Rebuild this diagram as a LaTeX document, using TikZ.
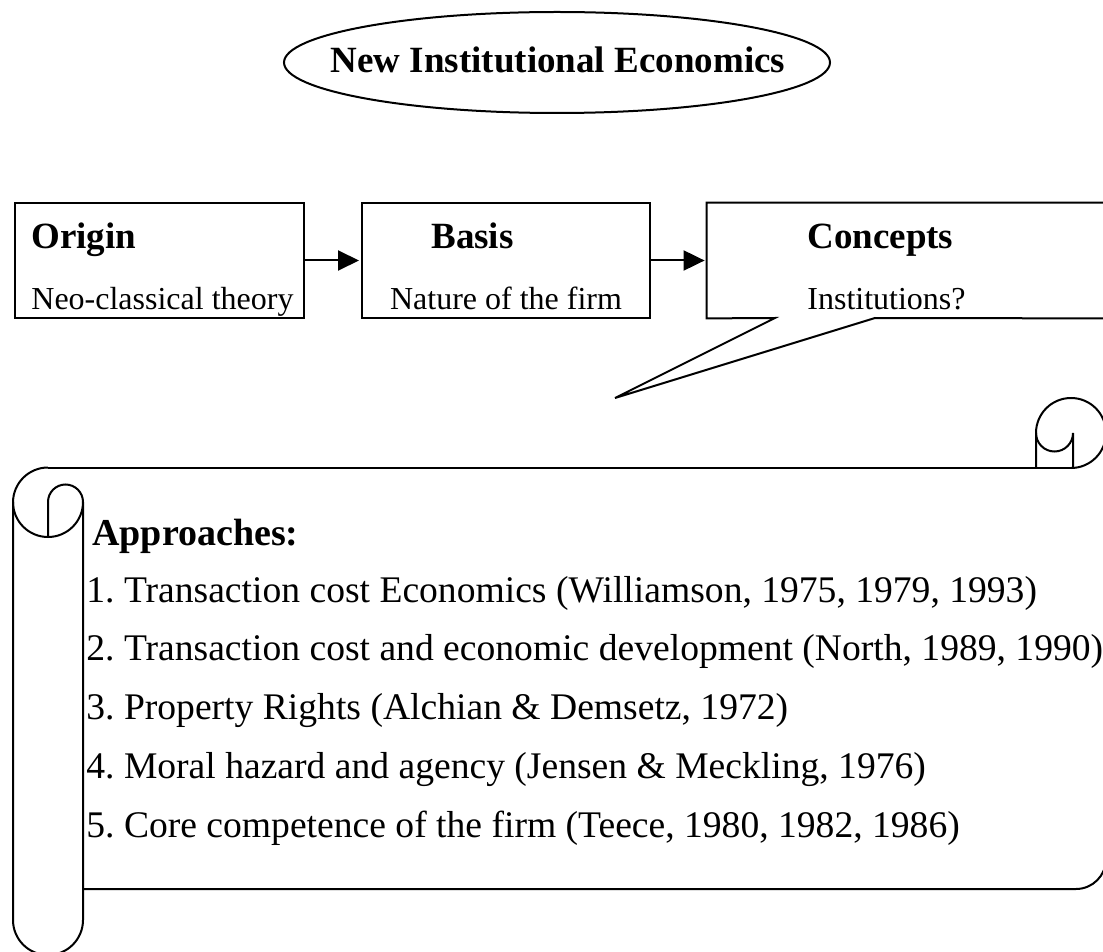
\documentclass[tikz,border=0pt]{standalone}
\usepackage{fontspec}
\setmainfont{Liberation Serif}
\usetikzlibrary{arrows.meta,shapes.geometric}
\tikzset{
  ln/.style={line width=1pt, draw=black},
  boxnode/.style={ln, rectangle, inner sep=0pt, minimum height=57.5pt},
  hd/.style={inner sep=0pt, anchor=base west, font=\fontsize{18.5}{22}\selectfont\bfseries},
  tx/.style={inner sep=0pt, anchor=base west, font=\fontsize{16}{19}\selectfont},
  item/.style={inner sep=0pt, anchor=base west, font=\fontsize{18.8}{22}\selectfont\frenchspacing},
  arr/.style={ln, -{Triangle[length=10.5pt,width=10pt]}, shorten >=1pt},
  titletext/.style={inner sep=0pt, font=\fontsize{18.5}{22}\selectfont\bfseries}
}
\begin{document}
\begin{tikzpicture}[x=0.5pt,y=-0.5pt]
\useasboundingbox (0,0) rectangle (1103,952);
\clip (0,0) rectangle (1103,952);
% title
\node[titletext] (title) at (558,60) {New Institutional Economics};
\draw[ln] (557,62.5) ellipse [x radius=273, y radius=50.5];
% boxes
\node[boxnode, minimum width=144.5pt] (origin) at (159.5,260.5) {};
\node[boxnode, minimum width=144pt] (basis) at (506,260.5) {};
\node[inner sep=0pt, minimum width=201.5pt, minimum height=57.5pt] (concepts) at (908.5,260.5) {};
\coordinate (tip) at (615,398);
\coordinate (tailL) at (775,318);
\coordinate (tailR) at (875,318);
\draw[ln, line join=miter] (concepts.north west) -- (concepts.north east) -- (concepts.south east)
  -- (tailR) -- (tip) -- (tailL) -- (concepts.south west) -- cycle;
\node[hd] (originH) at (31,249) {Origin};
\node[tx] (originS) at (31,309) {Neo-classical theory};
\node[hd] (basisH) at (431,249) {Basis};
\node[tx, anchor=base] (basisS) at (506,309) {Nature of the firm};
\node[hd] (conceptsH) at (807,249) {Concepts};
\node[tx] (conceptsS) at (807,309) {Institutions?};
\draw[arr] (origin.east) -- (basis.west);
\draw[arr] (basis.east) -- (concepts.west);
% scroll
\draw[ln] (48,467.5) arc[start angle=270,end angle=180,radius=35] -- (13,920)
  arc[start angle=180,end angle=0,radius=35] -- (83,502)
  arc[start angle=0,end angle=-180,radius=17.5] -- (48,537);
\draw[ln] (13,502) arc[start angle=180,end angle=0,radius=35];
\draw[ln] (48,467.5) -- (1071,467.5);
\draw[ln] (1036,467.5) -- (1036,433) arc[start angle=180,end angle=450,radius=35];
\draw[ln] (1036,433) arc[start angle=180,end angle=0,radius=18.5] -- (1073,467.5);
\draw[ln] (1106,433) -- (1106,859) arc[start angle=0,end angle=90,radius=30] -- (83,889);
% scroll text
\node[hd, font=\fontsize{19}{22}\selectfont\bfseries] (appr) at (92,545) {Approaches:};
\node[item] (i1) at (86,602) {1. Transaction cost Economics (Williamson, 1975, 1979, 1993)};
\node[item] (i2) at (86,660.5) {2. Transaction cost and economic development (North, 1989, 1990)};
\node[item] (i3) at (86,719) {3. Property Rights (Alchian \& Demsetz, 1972)};
\node[item] (i4) at (86,778) {4. Moral hazard and agency (Jensen \& Meckling, 1976)};
\node[item] (i5) at (86,837) {5. Core competence of the firm (Teece, 1980, 1982, 1986)};
\end{tikzpicture}
\end{document}
